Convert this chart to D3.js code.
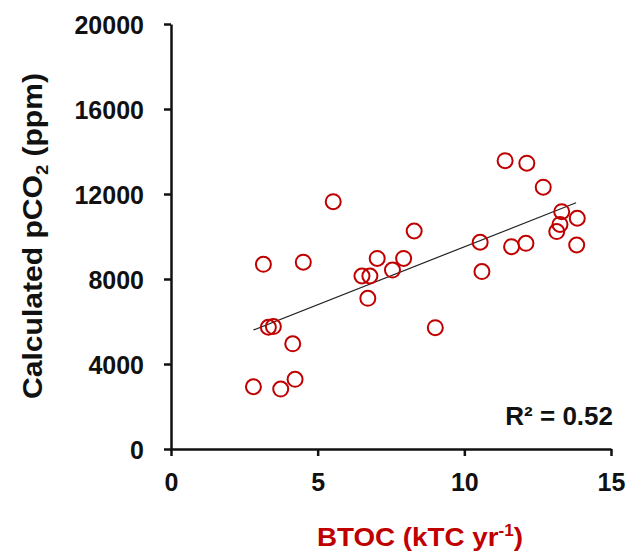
<!DOCTYPE html>
<html>
<head>
<meta charset="utf-8">
<script src="https://cdn.jsdelivr.net/npm/d3@7"></script>
<style>
  body { margin: 0; background: #fff; }
  svg { display: block; font-family: 'Liberation Sans', Arial, sans-serif; }
</style>
</head>
<body>
<svg id="chart" width="629" height="552"></svg>
<script>
// BTOC (kTC/yr) vs calculated pCO2 (ppm)
const btoc = [2.81, 3.15, 3.32, 3.49, 3.74, 4.15, 4.23, 4.51, 5.53, 6.51,
  6.71, 6.78, 7.03, 7.55, 7.93, 8.29, 9.01, 10.54, 10.60, 11.39,
  11.61, 12.10, 12.13, 12.69, 13.15, 13.26, 13.32, 13.83, 13.85]
const pco2 = [2930, 8690, 5730, 5760, 2820, 4950, 3280, 8790, 11640, 8140,
  7090, 8140, 8970, 8420, 8970, 10260, 5710, 9730, 8350, 13570,
  9520, 9680, 13450, 12320, 10230, 10570, 11170, 9600, 10860]

// linear fit end points as drawn
const trendX = [2.81, 13.81]
const trendY = [5600, 11590]

const xTicks = [0, 5, 10, 15]
const yTicks = [0, 4000, 8000, 12000, 16000, 20000]
const rSquared = 'R² = 0.52'

const red = '#c00000'
const ink = '#111'

const svg = d3.select('#chart')
const x = d3.scaleLinear().domain([0, 15]).range([171, 611])
const y = d3.scaleLinear().domain([0, 20000]).range([449, 24])

// axes
const xAxis = svg.append('g')
  .attr('transform', `translate(0,${y(0)})`)
  .call(d3.axisBottom(x).tickValues(xTicks).tickFormat(d3.format('d'))
    .tickSize(7).tickSizeOuter(0).tickPadding(17))
const yAxis = svg.append('g')
  .attr('transform', `translate(${x(0)},0)`)
  .call(d3.axisLeft(y).tickValues(yTicks).tickFormat(d3.format('d'))
    .tickSize(7).tickSizeOuter(0).tickPadding(20))

for (const g of [xAxis, yAxis]) {
  g.select('.domain').attr('stroke', ink).attr('stroke-width', 2.5)
  g.selectAll('.tick line').attr('stroke', ink).attr('stroke-width', 2.5)
  g.selectAll('.tick text')
    .attr('fill', ink)
    .attr('font-size', 25)
    .attr('font-weight', 'bold')
    .attr('font-family', 'Liberation Sans, Arial, sans-serif')
}
yAxis.selectAll('.tick text').attr('dy', '0.36em')

// trend line
svg.append('line')
  .attr('x1', x(trendX[0]))
  .attr('y1', y(trendY[0]))
  .attr('x2', x(trendX[1]))
  .attr('y2', y(trendY[1]))
  .attr('stroke', '#222')
  .attr('stroke-width', 1.2)

// markers
svg.append('g')
  .selectAll('circle')
  .data(btoc.map((v, i) => [v, pco2[i]]))
  .enter()
  .append('circle')
  .attr('cx', d => x(d[0]))
  .attr('cy', d => y(d[1]))
  .attr('r', 7.5)
  .attr('fill', 'none')
  .attr('stroke', red)
  .attr('stroke-width', 2)

// R squared
svg.append('text')
  .attr('x', 613)
  .attr('y', 425)
  .attr('text-anchor', 'end')
  .attr('font-size', 26)
  .attr('font-weight', 'bold')
  .attr('fill', ink)
  .text(rSquared)

// x title
const xTitle = svg.append('text')
  .attr('x', 420)
  .attr('y', 546)
  .attr('text-anchor', 'middle')
  .attr('font-size', 26)
  .attr('font-weight', 'bold')
  .attr('fill', red)
  .attr('textLength', 206)
  .attr('lengthAdjust', 'spacingAndGlyphs')
xTitle.append('tspan').text('BTOC (kTC yr')
xTitle.append('tspan').attr('font-size', 16).attr('dy', -10).text('-1')
xTitle.append('tspan').attr('dy', 10).text(')')

// y title
const yTitle = svg.append('text')
  .attr('transform', 'translate(42,236) rotate(-90)')
  .attr('text-anchor', 'middle')
  .attr('font-size', 28)
  .attr('font-weight', 'bold')
  .attr('fill', ink)
  .attr('textLength', 326)
  .attr('lengthAdjust', 'spacingAndGlyphs')
yTitle.append('tspan').text('Calculated pCO')
yTitle.append('tspan').attr('font-size', 17).attr('dy', 6).text('2')
yTitle.append('tspan').attr('dy', -6).text(' (ppm)')
</script>
</body>
</html>
